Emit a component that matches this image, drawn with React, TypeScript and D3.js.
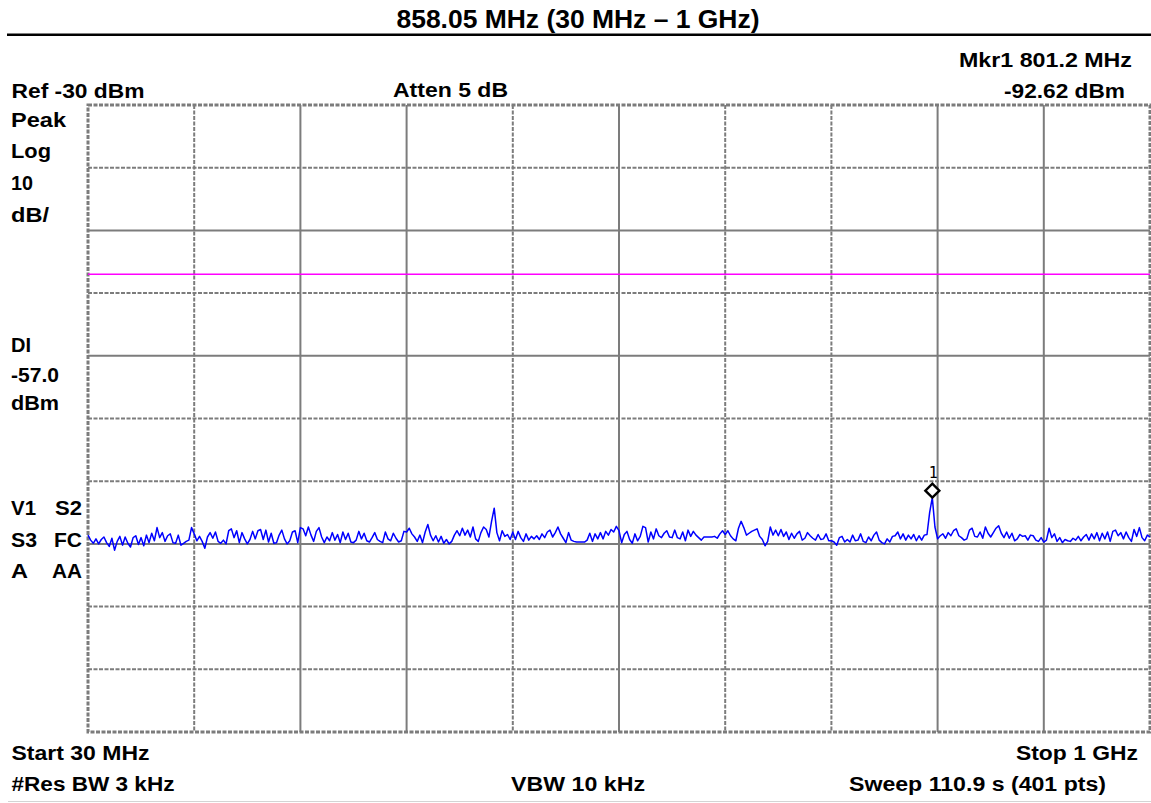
import React from "react";
import * as d3 from "d3";

// ---- Data ----
const START_MHZ = 30;
const STOP_MHZ = 1000;
const REF_DBM = -30;
const DB_PER_DIV = 10;
const DIVS = 10;
const DISPLAY_LINE_DBM = -57.0;
const MARKER_MHZ = 801.2;
const MARKER_DBM = -92.62;

const traceDbm: number[] = [
  // div 1
  -98.6, -99.4, -99.9, -99.2, -100.0, -99.3, -98.9, -99.8, -100.4, -99.1,
  -101.0, -99.6, -98.8, -100.2, -98.9, -99.9, -100.5, -99.0, -98.7, -100.1,
  -99.0, -100.3, -98.6, -99.8, -98.3, -99.5, -97.4, -99.0, -98.2, -99.6,
  -98.7, -98.4, -99.8, -99.9, -98.6, -100.2, -99.9, -99.6, -99.4, -97.4,
  // div 2
  -98.4, -99.5, -98.8, -99.6, -100.7, -98.9, -98.2, -99.1, -98.1, -99.6,
  -99.9, -99.4, -100.0, -97.9, -97.6, -99.0, -97.9, -99.8, -98.2, -99.2,
  -100.0, -99.3, -98.0, -99.2, -97.9, -97.7, -99.3, -97.8, -99.7, -98.3,
  -99.9, -99.8, -98.6, -97.8, -99.2, -100.0, -99.5, -98.1, -97.9, -99.8,
  // div 3
  -97.4, -97.6, -98.7, -97.3, -98.6, -99.6, -98.0, -97.4, -98.9, -99.8,
  -98.9, -99.5, -98.2, -99.4, -98.5, -99.8, -98.1, -99.3, -98.3, -99.7,
  -99.8, -99.4, -98.0, -99.2, -98.3, -99.5, -99.7, -99.0, -98.2, -99.3,
  -99.6, -99.8, -98.1, -99.2, -99.5, -98.3, -99.1, -99.7, -99.5, -98.0,
  // div 4
  -98.1, -97.5, -98.4, -98.9, -99.6, -98.6, -99.8, -98.1, -96.9, -98.6,
  -99.5, -98.7, -99.7, -98.8, -99.9, -99.3, -100.0, -99.6, -98.6, -97.9,
  -98.7, -97.5, -98.6, -97.8, -98.9, -97.3, -99.2, -99.6, -98.2, -97.3,
  -97.7, -98.9, -96.4, -94.3, -98.2, -99.5, -97.9, -98.8, -98.5, -99.3,
  // div 5
  -98.1, -99.3, -98.0, -99.0, -99.6, -98.4, -99.4, -98.8, -99.2, -98.7,
  -99.3, -98.4, -99.0, -98.1, -97.8, -98.9, -98.2, -97.3, -98.4, -99.1,
  -99.8, -98.2, -99.4, -99.6, -99.7, -99.7, -99.7, -99.7, -99.4, -98.3,
  -99.6, -98.4, -99.2, -98.2, -99.2, -98.0, -98.6, -97.7, -98.1, -97.2,
  // div 6
  -97.9, -99.8, -98.5, -98.0, -99.3, -99.9, -98.4, -99.5, -98.8, -97.2,
  -97.4, -99.7, -98.1, -99.2, -97.6, -98.7, -99.0, -98.3, -97.9, -98.9,
  -99.0, -97.8, -99.0, -99.2, -98.1, -99.5, -97.8, -98.8, -98.0, -98.6,
  -99.0, -99.4, -98.9, -98.9, -98.9, -98.9, -98.8, -99.1, -98.4, -97.9,
  // div 7
  -98.5, -97.9, -98.7, -99.2, -99.5, -97.5, -96.4, -97.4, -98.6, -98.3,
  -98.0, -97.8, -97.6, -98.8, -99.3, -100.3, -99.6, -97.3, -98.6, -97.8,
  -98.7, -97.7, -98.8, -98.1, -99.3, -98.3, -99.1, -98.4, -98.0, -99.4,
  -99.1, -98.2, -98.7, -99.1, -99.4, -98.5, -99.3, -99.2, -98.4, -99.5,
  // div 8
  -99.5, -99.7, -100.2, -99.0, -98.8, -99.7, -99.3, -99.7, -98.6, -99.5,
  -99.4, -98.4, -99.6, -99.8, -98.9, -99.5, -98.6, -98.1, -99.4, -99.8,
  -100.0, -99.2, -99.7, -98.8, -98.7, -98.1, -99.2, -98.4, -99.4, -98.6,
  -99.2, -98.5, -99.5, -98.7, -99.4, -98.6, -98.5, -95.0, -92.62, -97.3,
  // div 9
  -99.2, -98.7, -98.4, -99.1, -98.2, -98.7, -97.9, -97.6, -98.7, -99.0,
  -99.4, -99.2, -97.8, -97.5, -98.8, -98.9, -98.1, -99.1, -97.3, -98.3,
  -98.9, -98.2, -97.5, -97.1, -98.3, -99.0, -98.1, -99.1, -98.3, -99.5,
  -99.2, -98.5, -98.8, -98.7, -99.4, -98.6, -98.7, -99.4, -99.6, -99.0,
  // div 10
  -99.7, -99.4, -97.5, -99.0, -98.4, -99.6, -99.0, -99.8, -99.3, -99.5,
  -99.6, -99.1, -99.4, -98.8, -99.5, -98.9, -98.5, -99.4, -98.4, -99.2,
  -98.2, -99.5, -98.3, -99.2, -98.1, -99.6, -98.0, -97.8, -98.7, -98.2,
  -99.2, -98.1, -99.0, -99.6, -97.7, -98.8, -97.4, -99.0, -99.5, -98.6,
  -98.9,
];

const titleText = "858.05 MHz (30 MHz \u2013 1 GHz)";
const leftLabels = [
  { t: "Peak", y: 127, w: 55 },
  { t: "Log", y: 158, w: 40 },
  { t: "10", y: 190, w: 22 },
  { t: "dB/", y: 222, w: 38 },
  { t: "DI", y: 352, w: 20 },
  { t: "-57.0", y: 382, w: 48 },
  { t: "dBm", y: 410, w: 48 },
  { t: "V1", y: 515, w: 25 },
  { t: "S3", y: 547, w: 26 },
  { t: "A", y: 578, w: 17 },
];
const rightColLabels = [
  { t: "S2", y: 515, w: 27 },
  { t: "FC", y: 547, w: 28 },
  { t: "AA", y: 578, w: 30 },
];
// dashed-or-solid pattern of the instrument grid lines
const hGridDashed = [false, true, false, true, false, true, true, false, true, true, false];
const vGridDashed = [false, true, false, false, true, false, true, true, false, false, false];

const W = 1151;
const H = 803;
const PLOT = { left: 88, right: 1150, top: 105, bottom: 732 };

export default function App() {
  const x = d3.scaleLinear().domain([START_MHZ, STOP_MHZ]).range([PLOT.left, PLOT.right]);
  const y = d3
    .scaleLinear()
    .domain([REF_DBM - DB_PER_DIV * DIVS, REF_DBM])
    .range([PLOT.bottom, PLOT.top]);

  const n = traceDbm.length;
  const freqs = traceDbm.map((_, i) => START_MHZ + (i * (STOP_MHZ - START_MHZ)) / (n - 1));
  const line = d3
    .line<number>()
    .x((_, i) => x(freqs[i]))
    .y((d) => y(d));

  const vTicks = d3.range(DIVS + 1).map((i) => START_MHZ + (i * (STOP_MHZ - START_MHZ)) / DIVS);
  const hTicks = d3.range(DIVS + 1).map((i) => REF_DBM - i * DB_PER_DIV);

  const mx = x(MARKER_MHZ);
  const my = y(MARKER_DBM);
  const ds = 7;

  const font = "'Liberation Sans', Arial, Helvetica, sans-serif";
  const lblStyle: React.CSSProperties = { fontFamily: font, fontWeight: 700, fontSize: 20 };

  const gridColor = "#7c7c7c";

  return (
    <svg
      width={W}
      height={H}
      style={{ position: "absolute", left: 0, top: 0, background: "#fff" }}
    >
      <rect x={0} y={0} width={W} height={H} fill="#fff" />
      {/* title */}
      <text
        x={578}
        y={28}
        textAnchor="middle"
        style={{ fontFamily: font, fontWeight: 700, fontSize: 26 }}
        textLength={363}
        lengthAdjust="spacingAndGlyphs"
        fill="#000"
      >
        {titleText}
      </text>
      <line x1={7} x2={W} y1={34.7} y2={34.7} stroke="#000" strokeWidth={2.4} />

      {/* header */}
      <text x={11.5} y={97.5} style={lblStyle} textLength={133} lengthAdjust="spacingAndGlyphs">
        Ref -30 dBm
      </text>
      <text x={393} y={97} style={lblStyle} textLength={115} lengthAdjust="spacingAndGlyphs">
        Atten 5 dB
      </text>
      <text x={1132 - 173} y={66.5} style={lblStyle} textLength={173} lengthAdjust="spacingAndGlyphs">
        Mkr1  801.2 MHz
      </text>
      <text x={1125 - 121} y={97.5} style={lblStyle} textLength={121} lengthAdjust="spacingAndGlyphs">
        -92.62 dBm
      </text>

      {/* left labels */}
      {leftLabels.map((l) => (
        <text key={l.t} x={11} y={l.y} style={lblStyle} textLength={l.w} lengthAdjust="spacingAndGlyphs">
          {l.t}
        </text>
      ))}
      {rightColLabels.map((l) => (
        <text key={l.t} x={82 - l.w} y={l.y} style={lblStyle} textLength={l.w} lengthAdjust="spacingAndGlyphs">
          {l.t}
        </text>
      ))}

      {/* grid */}
      {hTicks.map((v, i) =>
        i === 0 || i === DIVS ? null : (
          <line
            key={"h" + i}
            x1={PLOT.left}
            x2={PLOT.right}
            y1={y(v)}
            y2={y(v)}
            stroke={gridColor}
            strokeWidth={2}
            strokeDasharray={hGridDashed[i] ? "4,1.5" : undefined}
          />
        )
      )}
      {vTicks.map((v, i) =>
        i === 0 || i === DIVS ? null : (
          <line
            key={"v" + i}
            x1={x(v)}
            x2={x(v)}
            y1={PLOT.top}
            y2={PLOT.bottom}
            stroke={gridColor}
            strokeWidth={2}
            strokeDasharray={vGridDashed[i] ? "4,1.5" : undefined}
          />
        )
      )}
      <rect
        x={PLOT.left}
        y={PLOT.top}
        width={PLOT.right - PLOT.left}
        height={PLOT.bottom - PLOT.top}
        fill="none"
        stroke={gridColor}
        strokeWidth={3}
        strokeDasharray="4,1.5"
      />

      {/* display line */}
      <line
        x1={PLOT.left}
        x2={PLOT.right}
        y1={y(DISPLAY_LINE_DBM)}
        y2={y(DISPLAY_LINE_DBM)}
        stroke="#ff00ff"
        strokeWidth={1.6}
      />

      {/* trace */}
      <path d={line(traceDbm) || ""} fill="none" stroke="#0000ff" strokeWidth={1.5} strokeLinejoin="round" />

      {/* marker */}
      <path
        d={`M${mx},${my - 2 * ds} L${mx + ds},${my - ds} L${mx},${my} L${mx - ds},${my - ds} Z`}
        fill="#fff"
        stroke="#000"
        strokeWidth={2.4}
      />
      <text
        x={mx + 1}
        y={my - 2 * ds - 6}
        textAnchor="middle"
        style={{ fontFamily: "'DejaVu Sans Mono', monospace", fontSize: 15 }}
        fill="#000"
      >
        1
      </text>

      {/* footer */}
      <text x={11.5} y={760} style={lblStyle} textLength={138} lengthAdjust="spacingAndGlyphs">
        Start 30 MHz
      </text>
      <text x={11.5} y={791} style={lblStyle} textLength={163} lengthAdjust="spacingAndGlyphs">
        #Res BW 3 kHz
      </text>
      <text x={511} y={791} style={lblStyle} textLength={134} lengthAdjust="spacingAndGlyphs">
        VBW 10 kHz
      </text>
      <text x={1138 - 122} y={760} style={lblStyle} textLength={122} lengthAdjust="spacingAndGlyphs">
        Stop 1 GHz
      </text>
      <text x={849} y={791} style={lblStyle} textLength={257} lengthAdjust="spacingAndGlyphs">
        Sweep 110.9 s (401 pts)
      </text>
      <line x1={8} x2={W} y1={801.5} y2={801.5} stroke="#d4d4d4" strokeWidth={1} />
    </svg>
  );
}
